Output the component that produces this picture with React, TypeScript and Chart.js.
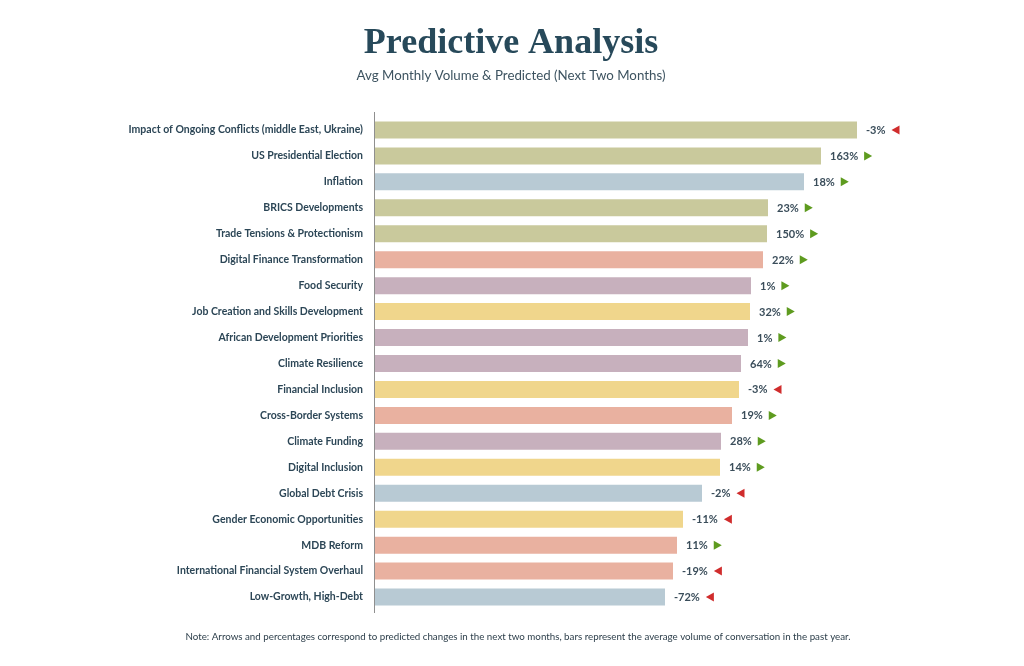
import React, { useEffect, useRef } from "react";
import { Chart, registerables } from "chart.js";

Chart.register(...registerables);

const categories = [
  "Impact of Ongoing Conflicts (middle East, Ukraine)",
  "US Presidential Election",
  "Inflation",
  "BRICS Developments",
  "Trade Tensions & Protectionism",
  "Digital Finance Transformation",
  "Food Security",
  "Job Creation and Skills Development",
  "African Development Priorities",
  "Climate Resilience",
  "Financial Inclusion",
  "Cross-Border Systems",
  "Climate Funding",
  "Digital Inclusion",
  "Global Debt Crisis",
  "Gender Economic Opportunities",
  "MDB Reform",
  "International Financial System Overhaul",
  "Low-Growth, High-Debt",
];

// Average monthly volume (relative units)
const avgVolume = [482, 446, 429, 393, 392, 388, 376, 375, 373, 366, 364, 357, 346, 345, 327, 308, 302, 298, 290];

// Predicted change (next two months), %
const predictedChange = [-3, 163, 18, 23, 150, 22, 1, 32, 1, 64, -3, 19, 28, 14, -2, -11, 11, -19, -72];

const OLIVE = "#c9c99c";
const BLUE = "#b8cad4";
const SALMON = "#e9b1a0";
const MAUVE = "#c7b0bd";
const YELLOW = "#f0d68c";

const barColors = [
  OLIVE, OLIVE, BLUE, OLIVE, OLIVE, SALMON, MAUVE, YELLOW, MAUVE, MAUVE,
  YELLOW, SALMON, MAUVE, YELLOW, BLUE, YELLOW, SALMON, SALMON, BLUE,
];

const TEXT = "#2c4656";
const SANS = "Lato, 'Open Sans', sans-serif";

const decorPlugin = {
  id: "decor",
  afterDraw(chart: any) {
    const ctx = chart.ctx;
    const area = chart.chartArea;
    const xs = chart.scales.x;
    const meta = chart.getDatasetMeta(0);
    ctx.save();
    // axis line
    ctx.strokeStyle = "#8f8f8f";
    ctx.lineWidth = 1;
    ctx.beginPath();
    ctx.moveTo(Math.round(area.left) - 0.5, area.top - 5);
    ctx.lineTo(Math.round(area.left) - 0.5, area.bottom + 3);
    ctx.stroke();

    // value labels + arrows
    ctx.font = "bold 11px " + SANS;
    ctx.textBaseline = "middle";
    ctx.textAlign = "left";
    meta.data.forEach((bar: any, i: number) => {
      const v = predictedChange[i];
      const x = xs.getPixelForValue(avgVolume[i]) + 9;
      const y = bar.y;
      const txt = v + "%";
      ctx.fillStyle = "#3a4d5a";
      ctx.fillText(txt, x, y + 0.5);
      const w = ctx.measureText(txt).width;
      const ax = x + w + 6;
      ctx.beginPath();
      if (v >= 0) {
        ctx.fillStyle = "#5e9b1f";
        ctx.moveTo(ax, y - 4.5);
        ctx.lineTo(ax + 8, y);
        ctx.lineTo(ax, y + 4.5);
      } else {
        ctx.fillStyle = "#d02c2c";
        ctx.moveTo(ax + 8, y - 4.5);
        ctx.lineTo(ax, y);
        ctx.lineTo(ax + 8, y + 4.5);
      }
      ctx.closePath();
      ctx.fill();
    });

    // title, subtitle, note
    ctx.textAlign = "center";
    ctx.textBaseline = "alphabetic";
    ctx.fillStyle = "#27495a";
    ctx.font = "bold 36px 'Liberation Serif', 'DejaVu Serif', serif";
    ctx.fillText("Predictive Analysis", 511, 53);
    ctx.fillStyle = "#3d5360";
    ctx.font = "13.3px " + SANS;
    ctx.fillText("Avg Monthly Volume & Predicted (Next Two Months)", 511, 80);
    ctx.fillStyle = "#2c3e4a";
    ctx.font = "9.75px " + SANS;
    ctx.fillText(
      "Note: Arrows and percentages correspond to predicted changes in the next two months, bars represent the average volume of conversation in the past year.",
      518,
      640
    );
    ctx.restore();
  },
};

export default function App() {
  const ref = useRef<HTMLCanvasElement | null>(null);
  useEffect(() => {
    if (!ref.current) return;
    const chart = new Chart(ref.current, {
      type: "bar",
      data: {
        labels: categories,
        datasets: [
          {
            data: avgVolume,
            backgroundColor: barColors,
            borderWidth: 0,
            categoryPercentage: 1,
            barPercentage: 0.655,
          },
        ],
      },
      options: {
        indexAxis: "y",
        responsive: false,
        animation: false,
        layout: { padding: { top: 117, bottom: 56, left: 0, right: 149 } },
        plugins: {
          legend: { display: false },
          tooltip: { enabled: false },
          title: { display: false },
        },
        scales: {
          x: { display: false, min: 0, max: 500 },
          y: {
            grid: { display: false, drawTicks: false },
            border: { display: false },
            afterFit: (s: any) => {
              s.width = 375;
            },
            ticks: {
              padding: 12,
              color: TEXT,
              font: { family: SANS, size: 10.5, weight: "bold" },
              autoSkip: false,
            },
          },
        },
      },
      plugins: [decorPlugin],
    });
    return () => chart.destroy();
  }, []);
  return (
    <div style={{ position: "absolute", left: 0, top: 0, width: 1024, height: 666, background: "#fff" }}>
      <canvas ref={ref} width={1024} height={666} />
    </div>
  );
}
